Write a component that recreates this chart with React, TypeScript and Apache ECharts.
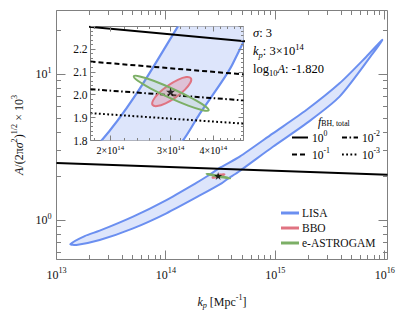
import React, { useEffect, useRef } from 'react';
import * as echarts from 'echarts';

const FONT = "'Liberation Serif', 'Times New Roman', serif";
const INK = '#111111';
const FRAME = '#808080';

// ---- axis ranges ----
const MAIN_X_RANGE = [1e13, 1.059e16];
const MAIN_Y_RANGE = [0.539, 27.35];
const INSET_X_RANGE = [1.75e14, 4.9e14];
const INSET_Y_RANGE = [1.8, 2.3];

// ---- LISA contour (k_p, A/(2πσ²)^½ ×10³) ----
const LISA_CONTOUR: [number, number][] = [
  [1.34e13, 0.687], [1.81e13, 0.78], [2.48e13, 0.849], [5.01e13, 1.06], [1.01e14, 1.377],
  [1.88e14, 1.798], [2.38e14, 2.003], [3.18e14, 2.31],
  [4.72e14, 2.73], [9.5e14, 3.94], [1.92e15, 5.69], [3.86e15, 8.67], [6.78e15, 13.2],
  [9.48e15, 17.2],
  [7.78e15, 13.9], [3.86e15, 7.03], [1.92e15, 4.61], [9.5e14, 3.19],
  [4.55e14, 2.134], [3.64e14, 1.915], [3.25e14, 1.798], [2.04e14, 1.48],
  [1.01e14, 1.117], [5.01e13, 0.881], [2.48e13, 0.733], [1.52e13, 0.678],
];

const BBO_CONTOUR: [number, number][] = [
  [3.439e14, 2.073], [3.426e14, 2.053], [3.3e14, 2.022], [3.105e14, 1.989], [2.9e14, 1.963],
  [2.739e14, 1.951], [2.657e14, 1.956], [2.667e14, 1.976], [2.768e14, 2.007], [2.943e14, 2.04],
  [3.15e14, 2.066], [3.334e14, 2.078],
];

const EASTROGAM_CONTOUR: [number, number][] = [
  [3.876e14, 1.932], [3.772e14, 1.952], [3.456e14, 1.986], [3.052e14, 2.026], [2.687e14, 2.061],
  [2.439e14, 2.081], [2.342e14, 2.082], [2.406e14, 2.062], [2.626e14, 2.028], [2.972e14, 1.988],
  [3.377e14, 1.953], [3.721e14, 1.933],
];

const BENCHMARK: [number, number][] = [[3e14, 2.013]];

// f_BH,total constraint lines
const F_BH_1: [number, number][] = [[1e13, 2.47], [1.059e16, 2.052]];
const F_BH_01: [number, number][] = [[1.75e14, 2.146], [4.9e14, 2.09]];
const F_BH_001: [number, number][] = [[1.75e14, 2.025], [4.9e14, 1.976]];
const F_BH_0001: [number, number][] = [[1.75e14, 1.92], [4.9e14, 1.874]];

// ---- ticks ----
const MAIN_X_TICKS: number[] = [];
[13, 14, 15].forEach((e) => [1, 2, 3, 4, 5, 6, 7, 8, 9].forEach((m) => MAIN_X_TICKS.push(m * Math.pow(10, e))));
MAIN_X_TICKS.push(1e16);
const MAIN_Y_TICKS = [0.6, 0.7, 0.8, 0.9, 1, 2, 3, 4, 5, 6, 7, 8, 9, 10, 20];
const INSET_X_TICKS: number[] = [];
for (let i = 18; i <= 48; i += 2) INSET_X_TICKS.push(i * 1e13);
const INSET_X_LABELED = [2e14, 3e14, 4e14];
const INSET_X_LABEL_MANTISSA = ['2', '3', '4'];
const INSET_X_LABEL_EXP = '14';
const INSET_Y_TICKS: number[] = [];
for (let i = 90; i <= 115; i++) INSET_Y_TICKS.push(i / 50);

const STAR_PATH =
  'path://M50,0 L61.2,34.5 L97.6,34.5 L68.2,55.9 L79.4,90.5 L50,69.1 L20.6,90.5 L31.8,55.9 L2.4,34.5 L38.8,34.5 Z';

const DASHED = [5, 3];
const DASHDOT = [5, 2.5, 1.6, 2.5];
const DOTTED = [1.8, 2.4];

const richSet = (size: number, extra = 4) => {
  const small = Math.round(size * 0.68 * 10) / 10;
  return {
    b: { fontFamily: FONT, fontSize: size, color: INK, lineHeight: size + extra },
    i: { fontFamily: FONT, fontSize: size, color: INK, lineHeight: size + extra, fontStyle: 'italic' },
    s: { fontFamily: FONT, fontSize: small, color: INK, lineHeight: small, verticalAlign: 'top' },
    si: { fontFamily: FONT, fontSize: small, color: INK, lineHeight: small, verticalAlign: 'bottom', fontStyle: 'italic' },
    sb: { fontFamily: FONT, fontSize: small, color: INK, lineHeight: small, verticalAlign: 'bottom' },
  };
};

const isDecade = (v: number) => {
  const e = Math.log10(v);
  return Math.abs(e - Math.round(e)) < 1e-6;
};
const decadeLabel = (v: number) => (isDecade(v) ? `{b|10}{s|${Math.round(Math.log10(v))}}` : '');

function tickSeries(
  gridIndex: number,
  dir: 'x' | 'y',
  ticks: number[],
  isMajor: (v: number) => boolean,
  ref: number,
  majorLen: number,
  minorLen: number
) {
  return {
    type: 'custom',
    xAxisIndex: gridIndex,
    yAxisIndex: gridIndex,
    z: 20,
    silent: true,
    data: ticks.map((v) => (dir === 'x' ? [v, ref, isMajor(v) ? 1 : 0] : [ref, v, isMajor(v) ? 1 : 0])),
    renderItem: (params: any, api: any) => {
      const cs = params.coordSys;
      const len = api.value(2) === 1 ? majorLen : minorLen;
      const st = { stroke: FRAME, lineWidth: 1 };
      const pt = api.coord([api.value(0), api.value(1)]);
      if (dir === 'x') {
        const px = Math.round(pt[0] - 0.5) + 0.5;
        const b = cs.y + cs.height;
        const t = cs.y;
        return {
          type: 'group',
          children: [
            { type: 'line', shape: { x1: px, y1: b, x2: px, y2: b - len }, style: st },
            { type: 'line', shape: { x1: px, y1: t, x2: px, y2: t + len }, style: st },
          ],
        };
      }
      const py = Math.round(pt[1] - 0.5) + 0.5;
      const l = cs.x;
      const r = cs.x + cs.width;
      return {
        type: 'group',
        children: [
          { type: 'line', shape: { x1: l, y1: py, x2: l + len, y2: py }, style: st },
          { type: 'line', shape: { x1: r, y1: py, x2: r - len, y2: py }, style: st },
        ],
      };
    },
  };
}

function polySeries(name: string, pts: [number, number][], gridIndex: number, stroke: string, fill: string, z: number, lw: number, smooth: number) {
  return {
    type: 'custom',
    name,
    xAxisIndex: gridIndex,
    yAxisIndex: gridIndex,
    z,
    silent: true,
    clip: true,
    itemStyle: { color: stroke },
    data: pts,
    renderItem: (params: any, api: any) => {
      if (params.dataIndex !== 0) return null;
      const cs = params.coordSys;
      const points = pts.map((p) => api.coord(p));
      return {
        type: 'group',
        clipPath: { type: 'rect', shape: { x: cs.x, y: cs.y, width: cs.width, height: cs.height } },
        children: [
          { type: 'polygon', shape: { points, smooth }, style: { fill, stroke, lineWidth: lw, lineJoin: 'round' } },
        ],
      };
    },
  };
}

function lineSeries(name: string, data: [number, number][], gridIndex: number, dash: any) {
  return {
    type: 'line',
    name,
    data,
    xAxisIndex: gridIndex,
    yAxisIndex: gridIndex,
    symbol: 'none',
    silent: true,
    clip: true,
    z: 8,
    lineStyle: { color: '#000', width: 2, type: dash, cap: 'butt' },
  };
}

function starSeries(gridIndex: number, size: number) {
  return {
    type: 'scatter',
    data: BENCHMARK,
    xAxisIndex: gridIndex,
    yAxisIndex: gridIndex,
    symbol: STAR_PATH,
    symbolSize: size,
    z: 12,
    silent: true,
    itemStyle: { color: '#000' },
  };
}

const LISA_STROKE = '#6b8ff0';
const LISA_FILL = '#dde5fb';
const BBO_STROKE = '#e07381';
const BBO_FILL = 'rgba(225,120,140,0.33)';
const EAS_STROKE = '#7caf66';
const EAS_FILL = 'rgba(124,175,102,0.12)';

export default function App() {
  const ref = useRef<HTMLDivElement>(null);
  useEffect(() => {
    if (!ref.current) return;
    const chart = echarts.init(ref.current, undefined, { renderer: 'svg' });
    const r12 = richSet(12);
    const r11 = richSet(11.5);
    const rTitle = richSet(11.5, 0);
    const r10 = richSet(10);
    const r125 = richSet(12.5);

    const fLegendRow = (y: number, items: { x: number; dash: any; exp: string }[]) => {
      const els: any[] = [];
      items.forEach((it) => {
        els.push({
          type: 'line',
          shape: { x1: it.x, y1: y, x2: it.x + 16, y2: y },
          style: { stroke: '#000', lineWidth: 2, lineDash: it.dash },
        });
        els.push({
          type: 'text',
          x: it.x + 20,
          y,
          style: { text: `{b|10}{s|${it.exp}}`, rich: r11, align: 'left', verticalAlign: 'middle' },
        });
      });
      return els;
    };

    const option: any = {
      animation: false,
      backgroundColor: '#fff',
      textStyle: { fontFamily: FONT },
      grid: [
        { left: 56.5, top: 10.5, width: 331, height: 249, show: true, borderColor: FRAME, borderWidth: 1, backgroundColor: 'transparent' },
        { left: 90.5, top: 26.5, width: 153, height: 114, show: true, borderColor: FRAME, borderWidth: 1, backgroundColor: '#fff' },
      ],
      xAxis: [
        {
          type: 'log',
          gridIndex: 0,
          min: MAIN_X_RANGE[0],
          max: MAIN_X_RANGE[1],
          axisLine: { show: false },
          axisTick: { show: false },
          splitLine: { show: false },
          axisLabel: { formatter: decadeLabel, rich: r12, margin: 7 },
          name: '{i|k}{si|p}{b| [Mpc}{s|-1}{b|]}',
          nameLocation: 'middle',
          nameGap: 34,
          nameTextStyle: { rich: r12 },
        },
        {
          type: 'log',
          gridIndex: 1,
          min: INSET_X_RANGE[0],
          max: INSET_X_RANGE[1],
          axisLine: { show: false },
          axisTick: { show: false },
          splitLine: { show: false },
          axisLabel: { show: false },
        },
      ],
      yAxis: [
        {
          type: 'log',
          gridIndex: 0,
          min: MAIN_Y_RANGE[0],
          max: MAIN_Y_RANGE[1],
          axisLine: { show: false },
          axisTick: { show: false },
          splitLine: { show: false },
          axisLabel: { formatter: decadeLabel, rich: r12, margin: 5 },
          name: '{i|A}{b|/(2π}{i|σ}{s|2}{b|)}{s|1/2}{b| × 10}{s|3}',
          nameLocation: 'middle',
          nameRotate: 90,
          nameGap: 28,
          nameTextStyle: { rich: r12 },
        },
        {
          type: 'value',
          gridIndex: 1,
          min: INSET_Y_RANGE[0],
          max: INSET_Y_RANGE[1],
          interval: 0.1,
          axisLine: { show: false },
          axisTick: { show: false },
          splitLine: { show: false },
          axisLabel: {
            showMaxLabel: false,
            margin: 3,
            fontFamily: FONT,
            fontSize: 11.5,
            color: INK,
            formatter: (v: number) => v.toFixed(1),
          },
        },
      ],
      legend: {
        orient: 'vertical',
        left: 281,
        top: 206,
        padding: 0,
        itemWidth: 18,
        itemHeight: 3,
        itemGap: 1,
        icon: 'rect',
        selectedMode: false,
        data: ['LISA', 'BBO', 'e-ASTROGAM'],
        textStyle: { fontFamily: FONT, fontSize: 11.5, color: INK, lineHeight: 14, padding: [0, 0, 0, -2] },
      },
      graphic: [
        { type: 'text', x: 253, y: 33, style: { text: '{i|σ}{b|: 3}', rich: r125, align: 'left', verticalAlign: 'middle' } },
        { type: 'text', x: 253, y: 51, style: { text: '{i|k}{si|p}{b|: 3×10}{s|14}', rich: r125, align: 'left', verticalAlign: 'middle' } },
        { type: 'text', x: 253, y: 69, style: { text: '{b|log}{sb|10}{i|A}{b|: -1.820}', rich: r125, align: 'left', verticalAlign: 'middle' } },
        { type: 'text', x: 318, y: 122, style: { text: '{i|f}{sb|BH, total}', rich: rTitle, align: 'left', verticalAlign: 'middle' } },
        ...fLegendRow(137.5, [
          { x: 292, dash: null, exp: '0' },
          { x: 342, dash: DASHDOT, exp: '-2' },
        ]),
        ...fLegendRow(154.5, [
          { x: 292, dash: DASHED, exp: '-1' },
          { x: 342, dash: DOTTED, exp: '-3' },
        ]),
      ],
      series: [
        // main panel
        polySeries('LISA', LISA_CONTOUR, 0, LISA_STROKE, LISA_FILL, 2, 2, 0.25),
        polySeries('BBO', BBO_CONTOUR, 0, BBO_STROKE, BBO_FILL, 3, 1.5, 0.35),
        polySeries('e-ASTROGAM', EASTROGAM_CONTOUR, 0, EAS_STROKE, EAS_FILL, 4, 1.5, 0.35),
        lineSeries('f1main', F_BH_1, 0, 'solid'),
        starSeries(0, 8),
        tickSeries(0, 'x', MAIN_X_TICKS, isDecade, 1, 9, 4.5),
        tickSeries(0, 'y', MAIN_Y_TICKS, isDecade, 1e14, 9, 4.5),
        // inset panel
        polySeries('LISA', LISA_CONTOUR, 1, LISA_STROKE, LISA_FILL, 2, 2.2, 0.25),
        lineSeries('f1', F_BH_1, 1, 'solid'),
        lineSeries('f01', F_BH_01, 1, DASHED),
        lineSeries('f001', F_BH_001, 1, DASHDOT),
        lineSeries('f0001', F_BH_0001, 1, DOTTED),
        polySeries('BBO', BBO_CONTOUR, 1, BBO_STROKE, BBO_FILL, 9, 2, 0.35),
        polySeries('e-ASTROGAM', EASTROGAM_CONTOUR, 1, EAS_STROKE, EAS_FILL, 10, 2, 0.35),
        starSeries(1, 9),
        tickSeries(1, 'x', INSET_X_TICKS, (v) => INSET_X_LABELED.some((m) => Math.abs(m - v) < 1e9), 2.0, 5, 2.5),
        tickSeries(1, 'y', INSET_Y_TICKS, (v) => Math.abs(v * 10 - Math.round(v * 10)) < 1e-6, 3e14, 5, 2.5),
        {
          type: 'custom',
          xAxisIndex: 1,
          yAxisIndex: 1,
          z: 20,
          silent: true,
          data: INSET_X_LABELED.map((v, i) => [v, 2.0, i]),
          renderItem: (params: any, api: any) => {
            const cs = params.coordSys;
            const px = api.coord([api.value(0), api.value(1)])[0];
            const mant = INSET_X_LABEL_MANTISSA[api.value(2)];
            return {
              type: 'text',
              x: px,
              y: cs.y + cs.height + 3,
              style: { text: `{b|${mant}×10}{s|${INSET_X_LABEL_EXP}}`, rich: r10, align: 'center', verticalAlign: 'top' },
            };
          },
        },
      ],
    };
    chart.setOption(option);
    return () => chart.dispose();
  }, []);
  return <div ref={ref} style={{ width: 407, height: 318, position: 'absolute', left: 0, top: 0 }} />;
}
